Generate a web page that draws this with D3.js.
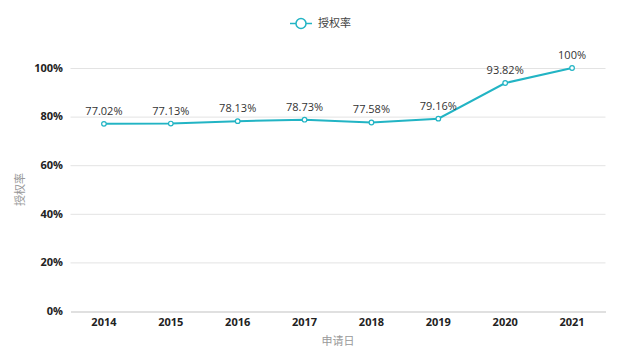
<!DOCTYPE html>
<html><head><meta charset="utf-8">
<script src="https://cdn.jsdelivr.net/npm/d3@7"></script>
<style>body{margin:0;background:#fff;font-family:"Open Sans","Noto Sans CJK SC",sans-serif;}</style>
</head><body><svg id="c" width="640" height="358"></svg>
<script>
const categories=["2014","2015","2016","2017","2018","2019","2020","2021"];
const values=[77.02,77.13,78.13,78.73,77.58,79.16,93.82,100];
const valueLabels=["77.02%","77.13%","78.13%","78.73%","77.58%","79.16%","93.82%","100%"];
const yTicks=[0,20,40,60,80,100];
const seriesName="授权率";
const xTitle="申请日", yTitle="授权率";
const color="#22b4c4";
const svg=d3.select("#c");
const m={l:70.5,r:605.5,t:68,b:311};
const x=d3.scaleBand().domain(categories).range([m.l,m.r]);
const y=d3.scaleLinear().domain([0,100]).range([m.b,m.t]);
const cjk='"Noto Sans CJK SC",sans-serif';
// grid
svg.append("g").selectAll("line").data(yTicks.filter(d=>d>0)).join("line")
 .attr("x1",m.l).attr("x2",m.r).attr("y1",d=>y(d)+0.5).attr("y2",d=>y(d)+0.5)
 .attr("stroke","#e3e3e3").attr("stroke-width",1);
// y labels
svg.append("g").selectAll("text").data(yTicks).join("text")
 .attr("x",63).attr("y",d=>y(d)).attr("dy","0.35em").attr("text-anchor","end")
 .attr("font-size",11).attr("font-weight","bold").attr("fill","#222").text(d=>d+"%");
// x axis
const xa=svg.append("g").attr("transform",`translate(0,${m.b+0.5})`)
 .call(d3.axisBottom(x).tickSize(0).tickPadding(7));
xa.select(".domain").attr("stroke","#d6d6d6").attr("stroke-width",1.5);
xa.selectAll("text").attr("font-size",11).attr("font-weight","bold").attr("fill","#222")
 .attr("font-family",'"Open Sans",sans-serif');
// titles
svg.append("text").attr("x",(m.l+m.r)/2).attr("y",345).attr("text-anchor","middle")
 .attr("font-size",11).attr("fill","#999").attr("font-family",cjk).text(xTitle);
svg.append("text").attr("transform",`translate(24,${(m.t+m.b)/2}) rotate(-90)`).attr("text-anchor","middle")
 .attr("font-size",11).attr("fill","#999").attr("font-family",cjk).text(yTitle);
// line
const pts=categories.map((c,i)=>({c,v:values[i],l:valueLabels[i]}));
const cx=d=>x(d.c)+x.bandwidth()/2;
svg.append("path").datum(pts).attr("fill","none").attr("stroke",color).attr("stroke-width",2)
 .attr("d",d3.line().x(cx).y(d=>y(d.v)));
svg.append("g").selectAll("circle").data(pts).join("circle")
 .attr("cx",cx).attr("cy",d=>y(d.v)).attr("r",2.3).attr("fill","#fff").attr("stroke",color).attr("stroke-width",1.2);
svg.append("g").selectAll("text").data(pts).join("text")
 .attr("x",cx).attr("y",d=>y(d.v)-9).attr("text-anchor","middle")
 .attr("font-size",11).attr("fill","#333").text(d=>d.l);
// legend
const lg=svg.append("g");
lg.append("line").attr("x1",290).attr("x2",312).attr("y1",23.5).attr("y2",23.5).attr("stroke",color).attr("stroke-width",1.5);
lg.append("circle").attr("cx",301).attr("cy",23.5).attr("r",5).attr("fill","#fff").attr("stroke",color).attr("stroke-width",1.5);
lg.append("text").attr("x",318).attr("y",23.5).attr("dy","0.35em").attr("font-size",11).attr("fill","#444")
 .attr("font-family",cjk).text(seriesName);
</script></body></html>
